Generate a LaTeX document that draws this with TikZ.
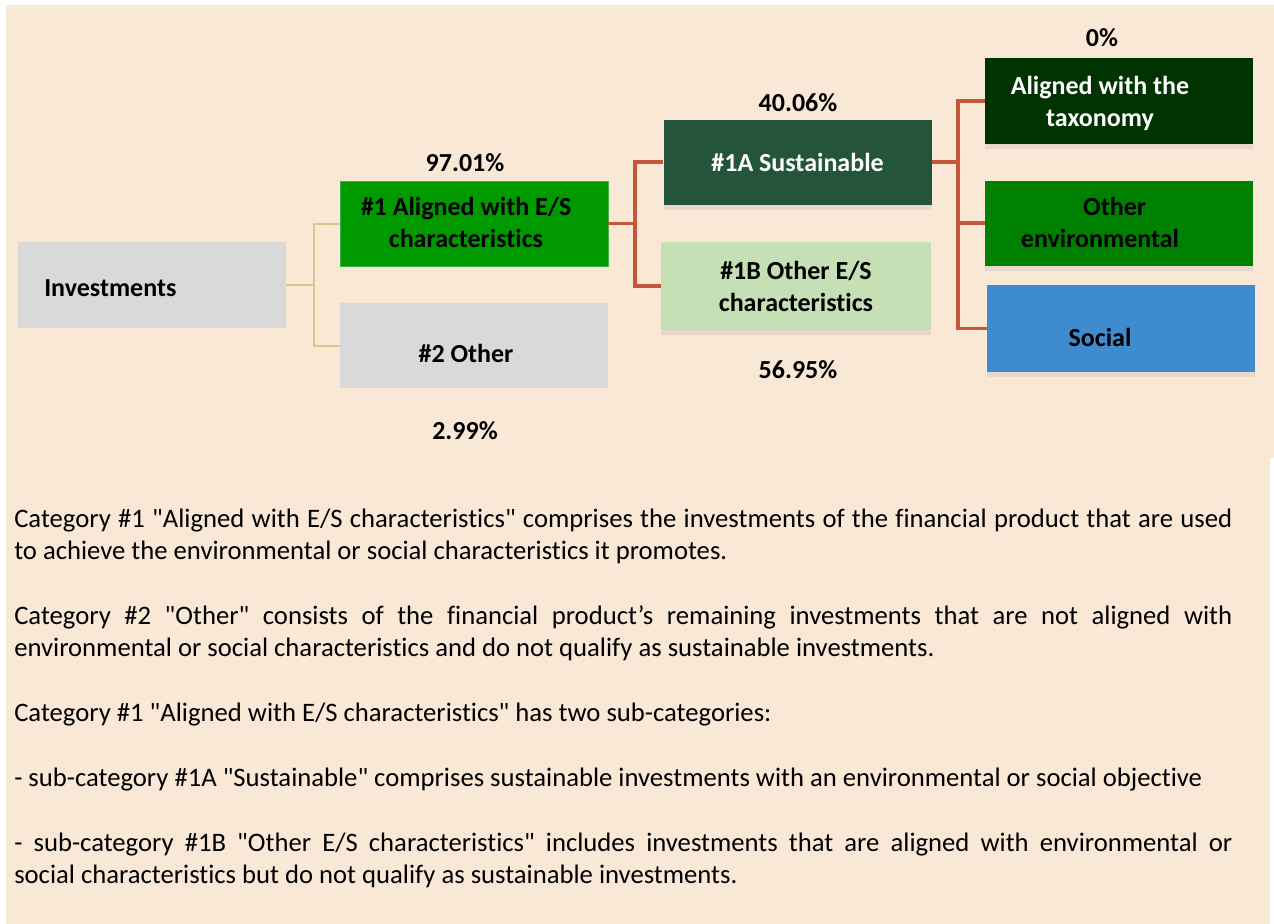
\documentclass[tikz,border=0pt]{standalone}
\usepackage{fontspec}
\setmainfont{Carlito}[Ligatures=NoCommon]
\usetikzlibrary{shadows}
\definecolor{peach}{HTML}{FAE8D7}
\definecolor{boxgray}{HTML}{D9D9D9}
\definecolor{esgreen}{HTML}{009900}
\definecolor{susgreen}{HTML}{245439}
\definecolor{othergreen}{HTML}{C5E0B4}
\definecolor{taxgreen}{HTML}{003300}
\definecolor{envgreen}{HTML}{008000}
\definecolor{socblue}{HTML}{3F8BD0}
\definecolor{tanline}{HTML}{D6C88C}
\definecolor{redline}{HTML}{C5583A}
\newcommand{\qq}{\textquotedbl}
\tikzset{
  box/.style={minimum width=201pt, minimum height=63.75pt, inner sep=0pt},
  shadowbox/.style={box, drop shadow={shadow xshift=0pt, shadow yshift=-4pt, opacity=0.15}},
  lbl/.style={font=\bfseries\fontsize{19.5}{24}\selectfont, align=center, inner sep=0pt},
  tanlink/.style={draw=tanline, line width=1.5pt},
  redlink/.style={draw=redline, line width=2.4pt},
}
\begin{document}
\begin{tikzpicture}[x=0.75pt, y=-0.75pt]
        \useasboundingbox (0,0) rectangle (1274,924);
        % Draw the background
        \fill[peach] (6,5) rectangle (1274,458);
        \fill[peach] (6,458) rectangle (1270,924);
        % Draw the boxes
        \node[box, fill=boxgray, minimum height=64.5pt] (inv) at (152,285) {};
        \node[lbl, anchor=west] (inv-txt) at (44,288) {Investments};
        \node[box, fill=esgreen, draw=esgreen!75!white, line width=0.6pt] (aes) at (474,223.5) {};
        \node[lbl] (aes-txt) at (466,222) {\#1 Aligned with E/S\\characteristics};
        \node[box, fill=boxgray] (oth) at (474,345.5) {};
        \node[lbl] (oth-txt) at (466,353) {\#2 Other};
        \node[shadowbox, fill=susgreen, text=white] (sus) at (797.5,162) {\bfseries\fontsize{19.5}{24}\selectfont \#1A Sustainable};
        \node[shadowbox, fill=othergreen, minimum width=202.5pt, minimum height=66pt, align=center,
              font=\bfseries\fontsize{19.5}{24}\selectfont] (oes) at (796,286) {\#1B Other E/S\\characteristics};
        \node[shadowbox, fill=taxgreen] (tax) at (1119,101) {};
        \node[lbl, text=white] (tax-txt) at (1100,103) {Aligned with the\\taxonomy};
        \node[shadowbox, fill=envgreen] (env) at (1119,223) {};
        \node[lbl] (env-txt) at (1100,222) {\hspace*{22pt}Other\\environmental};
        \node[shadowbox, fill=socblue, minimum height=65pt] (soc) at (1121,328.5) {};
        \node[lbl] (soc-txt) at (1100,337) {Social};
        % Draw the percentages
        \node[lbl] (p-aes) at (465,163) {97.01\%};
        \node[lbl] (p-oth) at (465,431) {2.99\%};
        \node[lbl] (p-sus) at (798,103) {40.06\%};
        \node[lbl] (p-oes) at (798,370) {56.95\%};
        \node[lbl] (p-tax) at (1102,38) {0\%};
        % Draw the links
        \coordinate (j1) at (314,285);
        \draw[tanlink] (inv.east) -- (j1);
        \draw[tanlink] (j1) |- (aes.west);
        \draw[tanlink] (j1) |- (oth.west);
        \coordinate (j2) at (635,223.5);
        \draw[redlink] (aes.east) -- (j2);
        \draw[redlink] (j2) |- (sus.west);
        \draw[redlink] (j2) |- (oes.west);
        \coordinate (j3) at (958,162);
        \draw[redlink] (sus.east) -- (j3);
        \draw[redlink] (j3) |- (tax.west);
        \draw[redlink] (j3) |- (env.west);
        \draw[redlink] (j3) |- (soc.west);
        % Write the notes
        \node[anchor=north west, text width=913.5pt, inner sep=0pt, align=justify,
              font=\fontsize{20}{24}\selectfont] (notes) at (14,508.5) {%
          \setlength{\parskip}{24.75pt}\setlength{\parindent}{0pt}\hyphenpenalty=10000
          Category \#1 \qq Aligned with E/S characteristics\qq{} comprises the investments of the financial product that are used\linebreak to achieve the environmental or social characteristics it promotes.\par
          Category \#2 \qq Other\qq{} consists of the financial product’s remaining investments that are not aligned with\linebreak environmental or social characteristics and do not qualify as sustainable investments.\par
          Category \#1 \qq Aligned with E/S characteristics\qq{} has two sub-categories:\par
          - sub-category \#1A \qq Sustainable\qq{} comprises sustainable investments with an environmental or social objective\par
          - sub-category \#1B \qq Other E/S characteristics\qq{} includes investments that are aligned with environmental or\linebreak social characteristics but do not qualify as sustainable investments.\par};
\end{tikzpicture}
\end{document}
